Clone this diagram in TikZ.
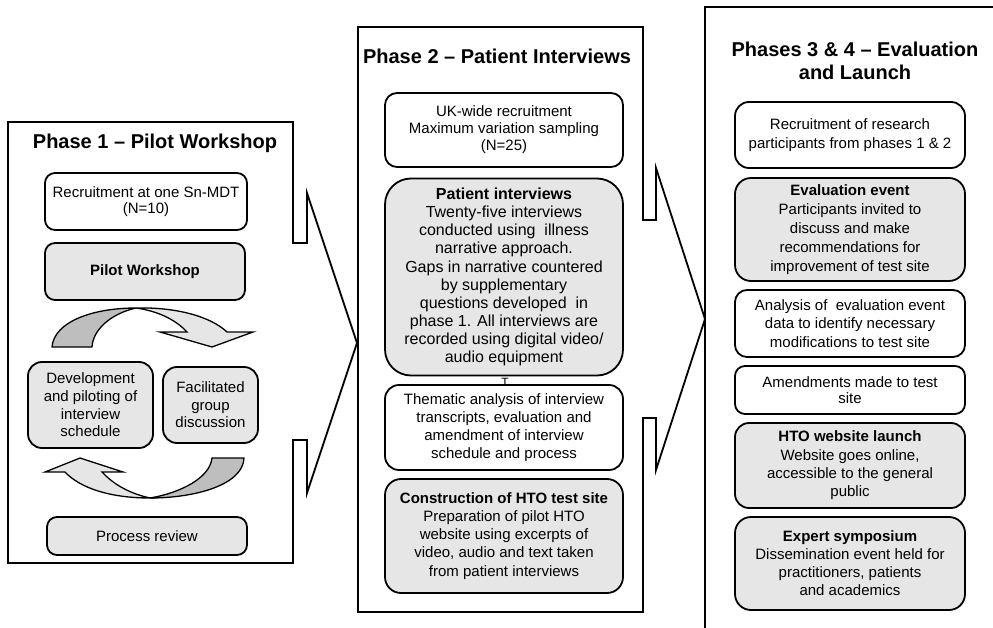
\documentclass[tikz,border=0pt]{standalone}
\usepackage{fontspec}
\setmainfont{Liberation Sans}
\definecolor{cGray}{HTML}{E6E6E6}
\definecolor{cDark}{HTML}{BEBEBE}
\tikzset{
  panelst/.style={draw, line width=1.8pt, fill=white, line join=miter},
  wbox/.style={draw, line width=1.8pt, rounded corners=10pt, fill=white, align=center, inner sep=0pt, font=\fontsize{15}{17.5}\selectfont},
  gbox/.style={wbox, fill=cGray},
  ttl/.style={font=\fontsize{20}{23}\selectfont\bfseries, align=center, inner sep=0pt},
  arrdarkst/.style={fill=cDark, draw, line width=1.3pt, line join=round},
  arrlightst/.style={fill=cGray, draw, line width=1.3pt, line join=miter},
}
\begin{document}
\begin{tikzpicture}[x=1pt,y=-1pt]
\useasboundingbox (0,0) rectangle (993,628);
\fill[white] (0,0) rectangle (993,628);

% Phase 3 panel (open at right and bottom)
\draw[line width=1.8pt] (705,640) -- (705,7) -- (1000,7);

% Phase 2 panel with arrow
\draw[panelst] (358,27) -- (643,27) -- (643,220) -- (656,220) -- (656,168) -- (705,319) -- (656,470) -- (656,418) -- (643,418) -- (643,612) -- (358,612) -- cycle;

% Phase 1 panel with arrow
\draw[panelst] (8,122) -- (293,122) -- (293,243) -- (307,243) -- (307,193) -- (357,343) -- (307,493) -- (307,440) -- (293,440) -- (293,563) -- (8,563) -- cycle;

% Titles
\node[ttl] (t1) at (155,143) {Phase 1 -- Pilot Workshop};
\node[ttl] (t2) at (497,56) {Phase 2 -- Patient Interviews};
\node[ttl] (t3) at (855,61) {Phases 3 \& 4 -- Evaluation\\and Launch};

% Phase 1 boxes
\node[wbox, minimum width=202pt, minimum height=57pt, font=\fontsize{15}{15.5}\selectfont] (b1) at (146,201.5) {Recruitment at one Sn-MDT\\(N=10)};
\node[gbox, minimum width=200pt, minimum height=57pt, font=\fontsize{15}{17}\selectfont\bfseries] (b2) at (145,271.5) {Pilot Workshop};
\node[gbox, minimum width=125pt, minimum height=86pt, rounded corners=14pt, font=\fontsize{15}{17.7}\selectfont] (b3) at (90.5,405) {Development\\and piloting of\\interview\\schedule};
\node[gbox, minimum width=95pt, minimum height=76pt, rounded corners=14pt, font=\fontsize{15}{17.5}\selectfont] (b4) at (210.5,405) {Facilitated\\group\\discussion};
\node[gbox, minimum width=200pt, minimum height=38pt] (b5) at (147,536) {Process review};

% Curved arrows in phase 1
\draw[arrdarkst] (52,347) .. controls (54,322) and (92,308) .. (136,308) .. controls (110,314) and (93,330) .. (92,347) -- cycle;
\draw[arrlightst] (136,308) .. controls (175,307) and (210,316) .. (227,332) -- (253,332) -- (212,347) -- (160,332) -- (187,332) .. controls (175,319) and (157,311) .. (136,308) -- cycle;

\draw[arrdarkst] (244,458) .. controls (243,485) and (195,498) .. (150,498) .. controls (180,493) and (210,478) .. (212,458) -- cycle;
\draw[arrlightst] (150,498) .. controls (110,498) and (80,488) .. (65,472) -- (45,472) -- (80,458) -- (123,472) -- (102,472) .. controls (115,486) and (132,494) .. (150,498) -- cycle;

% Phase 2 boxes
\node[wbox, minimum width=238pt, minimum height=74pt, rounded corners=12pt, font=\fontsize{15}{17}\selectfont] (c1) at (504,130) {UK-wide recruitment\\Maximum variation sampling\\(N=25)};
\node[gbox, minimum width=238pt, minimum height=197pt, rounded corners=26pt, font=\fontsize{16}{18.1}\selectfont] (c2) at (504,277) {\textbf{Patient interviews}\\Twenty-five interviews\\conducted using\ \ illness\\narrative approach.\\Gaps in narrative countered\\by supplementary\\questions developed\ \ in\\phase 1. All interviews are\\recorded using digital video/\\audio equipment};
\node[wbox, minimum width=238pt, minimum height=85pt, rounded corners=14pt, font=\fontsize{15}{17.8}\selectfont] (c3) at (504,427.5) {Thematic analysis of interview\\transcripts, evaluation and\\amendment of interview\\schedule and process};
\node[gbox, minimum width=238pt, minimum height=114pt, rounded corners=16pt, font=\fontsize{15}{18.1}\selectfont] (c4) at (504,536) {\textbf{Construction of HTO test site}\\Preparation of pilot HTO\\website using excerpts of\\video, audio and text taken\\from patient interviews};
\node[inner sep=0pt, anchor=north, font=\fontsize{12}{12}\selectfont] (tm) at (505,378.5) {T};

% Phase 3 boxes
\node[wbox, minimum width=230pt, minimum height=66pt, rounded corners=14pt, font=\fontsize{15}{18.5}\selectfont] (d1) at (850,135) {Recruitment of research\\participants from phases 1 \& 2};
\node[gbox, minimum width=230pt, minimum height=103pt, rounded corners=16pt, font=\fontsize{15}{19}\selectfont] (d2) at (850,229.5) {\textbf{Evaluation event}\\Participants invited to\\discuss and make\\recommendations for\\improvement of test site};
\node[wbox, minimum width=230pt, minimum height=67pt, rounded corners=12pt, font=\fontsize{15}{18.5}\selectfont] (d3) at (850,323.5) {Analysis of\ \ evaluation event\\data to identify necessary\\modifications to test site};
\node[wbox, minimum width=230pt, minimum height=48pt, rounded corners=10pt, font=\fontsize{15}{16.5}\selectfont] (d4) at (850,390) {Amendments made to test\\site};
\node[gbox, minimum width=230pt, minimum height=85pt, rounded corners=14pt, font=\fontsize{15}{18.3}\selectfont] (d5) at (850,465.5) {\textbf{HTO website launch}\\Website goes online,\\accessible to the general\\public};
\node[gbox, minimum width=230pt, minimum height=93pt, rounded corners=16pt, font=\fontsize{15}{18}\selectfont] (d6) at (850,563.5) {\textbf{Expert symposium}\\Dissemination event held for\\practitioners, patients\\and academics};
\end{tikzpicture}
\end{document}
